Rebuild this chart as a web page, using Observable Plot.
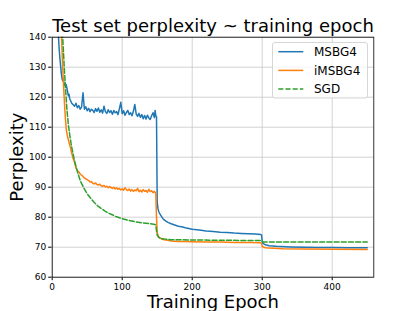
<!DOCTYPE html>
<html>
<head>
<meta charset="utf-8">
<script src="https://cdn.jsdelivr.net/npm/d3@7"></script>
<script src="https://cdn.jsdelivr.net/npm/@observablehq/plot@0.6"></script>
<style>
  html, body { margin: 0; padding: 0; background: white; }
  #chart { position: relative; width: 415px; height: 311px; overflow: hidden; font-family: "DejaVu Sans", sans-serif; }
  #legend { position: absolute; left: 272px; top: 42px; }
</style>
</head>
<body>
<div id="chart"></div>
<script>
// ---- Data ----
const titleText = "Test set perplexity ~ training epoch";
const xLabel = "Training Epoch";
const yLabel = "Perplexity";
const xTicks = [0, 100, 200, 300, 400];
const yTicks = [60, 70, 80, 90, 100, 110, 120, 130, 140];
const seriesNames = ["MSBG4", "iMSBG4", "SGD"];
const seriesColors = ["#1f77b4", "#ff7f0e", "#2ca02c"];
const seriesDash = [null, null, "5,2.2"];

const msbg4Epochs = [1, 5, 7, 9, 10, 11, 12, 13, 14, 15, 16, 17, 18, 19, 20, 21, 22, 23, 24, 25,
  26, 28, 30, 32, 34, 36, 38, 40, 42, 44, 46, 48, 50, 52, 54, 56, 58, 60, 62, 64, 66, 68, 70, 72, 74, 76, 78, 80,
  82, 84, 86, 88, 90, 92, 94, 96, 98, 100, 102, 104, 106, 108, 110, 112, 114, 116, 118, 120, 122, 124, 126, 128,
  130, 132, 134, 136, 138, 140, 142, 144, 146, 147, 148, 149, 150, 151, 152, 154, 156, 158, 160, 163, 166, 170,
  175, 180, 185, 190, 200, 210, 220, 230, 240, 250, 260, 270, 280, 290, 298, 299, 300, 301, 303, 306, 310, 320,
  340, 360, 380, 400, 420, 450];
const msbg4Values = [300, 180, 155, 140, 136, 133, 130.5, 128, 126.3, 125.5, 126, 124, 124.5, 123.8, 124.2, 123, 121.8, 120.5, 121, 119.5,
  119, 118, 117.5, 117, 118, 116.5, 117.2, 116, 116.8, 121.5, 116, 116.8, 115.5, 116.3, 115.2, 116, 115.6, 114.9, 116.2, 115.3, 116.4, 115, 115.8, 114.7, 117, 115.2, 114.6, 115.8,
  114.9, 115.5, 114.3, 115.6, 114.8, 115.2, 114.2, 116.2, 118.3, 114.5, 115.5, 114, 114.9, 115.6, 114.2, 114.8, 113.8, 115.3, 117.6, 114.4, 113.6, 114.6, 113.3, 114.2,
  112.8, 113.9, 112.7, 114, 113.1, 112.6, 113.8, 114.8, 113.2, 115.6, 113.8, 113.5, 85, 83, 82, 81, 80.3, 79.6, 79.1, 78.6, 78.2, 77.8,
  77.4, 77, 76.8, 76.5, 76, 75.7, 75.4, 75.2, 75, 74.9, 74.7, 74.6, 74.5, 74.4, 74.2, 74.1, 72, 71.3, 71, 70.7, 70.5, 70.3,
  70.1, 70, 69.9, 69.9, 69.8, 69.8];

const imsbg4Epochs = [1, 8, 11, 13, 14, 15, 16, 17, 18, 19, 20, 21, 22, 24, 26, 28, 30, 32, 34, 36, 38, 40,
  42, 44, 46, 48, 50, 52, 54, 56, 58, 60, 62, 64, 66, 68, 70, 72, 74, 76, 78, 80, 82, 84, 86, 88, 90, 92, 94, 96,
  98, 100, 102, 104, 106, 108, 110, 112, 114, 116, 118, 120, 122, 124, 126, 128, 130, 132, 134, 136, 138, 140,
  142, 144, 146, 148, 149, 150, 151, 152, 154, 156, 160, 165, 170, 180, 190, 200, 220, 240, 260, 280, 298, 299,
  300, 302, 305, 310, 330, 360, 400, 450];
const imsbg4Values = [300, 175, 152, 142, 136, 130, 125, 120.5, 116, 112.5, 109.5, 108, 106.8, 105, 103.3, 101.2, 99.5, 98.2, 96.4, 95.5, 95.1, 94.4,
  94, 93.6, 93.1, 92.8, 92.5, 92.2, 91.7, 91.9, 91.3, 91.1, 91.4, 90.9, 90.7, 91, 90.5, 90.3, 90.6, 90.1, 90.3, 89.8, 90.2, 89.9, 89.6, 90, 89.4, 89.8, 89.3, 89.6,
  89.1, 89.5, 89, 89.8, 89.2, 88.9, 89.4, 88.7, 89.2, 88.6, 89.1, 88.8, 89.6, 88.5, 89, 88.4, 89.2, 88.6, 88.9, 88.3, 89.3, 88.5,
  88.8, 88.2, 88.6, 88, 80, 75, 74, 73.6, 73.1, 72.8, 72.5, 72.3, 72.1, 71.9, 71.9, 71.8, 71.7, 71.7, 71.6, 71.6, 71.5, 71.3,
  70.3, 70, 69.8, 69.7, 69.5, 69.4, 69.3, 69.2];

const sgdEpochs = [1, 10, 13, 15, 17, 19, 21, 23, 25, 27, 29, 31, 33, 36, 40, 45, 50, 55, 60, 65, 70, 75, 80, 85,
  90, 95, 100, 110, 120, 130, 140, 147, 148, 149, 150, 152, 155, 160, 170, 200, 250, 298, 300, 302, 450];
const sgdValues = [300, 170, 150, 140, 131, 123, 116, 111, 107.5, 104.5, 102, 99.8, 97.8, 95.2, 92.2, 89.8, 87.8, 86.3, 84.9, 83.8, 82.9, 82.1, 81.4, 80.9,
  80.3, 79.9, 79.5, 78.9, 78.4, 78.1, 77.8, 77.6, 77.2, 75.5, 74, 73.3, 72.9, 72.7, 72.5, 72.4, 72.3, 72.2, 71.9, 71.7, 71.7];

// ---- Build tables ----
const seriesEpochs = [msbg4Epochs, imsbg4Epochs, sgdEpochs];
const seriesValues = [msbg4Values, imsbg4Values, sgdValues];
const tables = seriesNames.map((name, i) =>
  seriesEpochs[i].map((e, j) => ({series: name, epoch: e, value: seriesValues[i][j]})));

const font = "DejaVu Sans";
const gridStyle = {stroke: "#c8c8c8", strokeOpacity: 1, strokeWidth: 0.8};

const lineMarks = tables.map((t, i) => Plot.line(t, {
  x: "epoch", y: "value", stroke: seriesColors[i], strokeWidth: 1.5,
  strokeDasharray: seriesDash[i] ?? undefined, clip: true
}));

const chart = Plot.plot({
  width: 415,
  height: 311,
  marginTop: 36.7,
  marginBottom: 34.3,
  marginLeft: 51.7,
  marginRight: 41.7,
  style: {fontFamily: font, fontSize: "9px", background: "white", color: "black"},
  x: {domain: [0, 459.4], ticks: xTicks, tickSize: 3.5, tickPadding: 2.5, label: null, tickFormat: d3.format("d")},
  y: {domain: [60, 140], ticks: yTicks, tickSize: 3.5, tickPadding: 2.5, label: null, tickFormat: d3.format("d")},
  marks: [
    Plot.gridX(xTicks, gridStyle),
    Plot.gridY(yTicks, gridStyle),
    ...lineMarks,
    Plot.frame({stroke: "black", strokeWidth: 0.8}),
    Plot.text([titleText], {frameAnchor: "top", dy: -10.8, fontSize: 18, lineAnchor: "middle", fill: "black"}),
    Plot.text([xLabel], {frameAnchor: "bottom", dy: 25.5, fontSize: 18, lineAnchor: "middle", fill: "black"}),
    Plot.text([yLabel], {frameAnchor: "left", dx: -35, rotate: -90, fontSize: 18, textAnchor: "middle", lineAnchor: "middle", fill: "black"})
  ]
});

const container = document.getElementById("chart");
container.appendChild(chart);

// ---- Legend (inside the plot area, upper right) ----
const lg = d3.select(container).append("svg")
  .attr("id", "legend")
  .attr("width", 97).attr("height", 58);
lg.append("rect")
  .attr("x", 0.5).attr("y", 0.5).attr("width", 95).attr("height", 55.5)
  .attr("rx", 2.5)
  .attr("fill", "white").attr("fill-opacity", 0.8)
  .attr("stroke", "#cccccc").attr("stroke-width", 0.8);
seriesNames.forEach((name, i) => {
  const y = 9.7 + i * 18.7;
  lg.append("line")
    .attr("x1", 6.3).attr("x2", 31.3).attr("y1", y).attr("y2", y)
    .attr("stroke", seriesColors[i]).attr("stroke-width", 1.5)
    .attr("stroke-dasharray", seriesDash[i]);
  lg.append("text")
    .attr("x", 42).attr("y", y).attr("dy", "0.36em")
    .attr("font-family", font).attr("font-size", 12).attr("fill", "black")
    .text(name);
});
</script>
</body>
</html>
